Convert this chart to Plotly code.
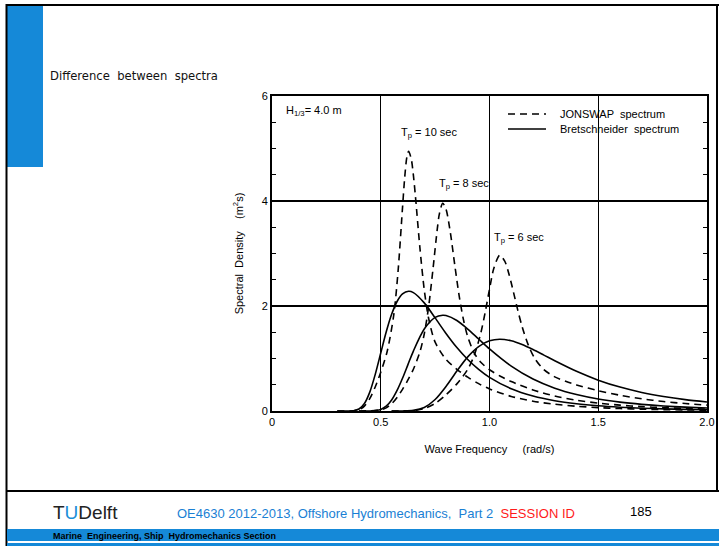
import plotly.graph_objects as go

# ---- spectral ordinates (rad/s, m^2 s), H1/3 = 4.0 m ----
# JONSWAP spectra
w_j10 = [0.30, 0.375, 0.40, 0.425, 0.45, 0.475, 0.50, 0.53, 0.56, 0.58, 0.60, 0.61, 0.62, 0.628,
         0.64, 0.65, 0.66, 0.68, 0.70, 0.72, 0.75, 0.80, 0.85, 0.90, 0.95, 1.0, 1.1, 1.2, 1.3,
         1.4, 1.5, 1.6, 1.7, 1.8, 1.9, 2.0]
s_j10 = [0.0, 0.004, 0.025, 0.094, 0.240, 0.463, 0.738, 1.144, 1.834, 2.682, 3.869, 4.44, 4.834, 4.945,
         4.805, 4.494, 4.064, 3.109, 2.31, 1.767, 1.312, 0.983, 0.795, 0.645, 0.521, 0.421, 0.278, 0.187, 0.129,
         0.0905, 0.0649, 0.0474, 0.0352, 0.0266, 0.0204, 0.0158]

w_j8 = [0.40, 0.50, 0.525, 0.55, 0.575, 0.60, 0.625, 0.65, 0.68, 0.70, 0.72, 0.74, 0.76, 0.77, 0.785,
        0.80, 0.82, 0.84, 0.86, 0.88, 0.90, 0.93, 0.96, 1.0, 1.05, 1.1, 1.2, 1.3, 1.4, 1.5, 1.6,
        1.7, 1.8, 1.9, 2.0]
s_j8 = [0.0, 0.020, 0.060, 0.137, 0.257, 0.411, 0.591, 0.795, 1.124, 1.467, 1.983, 2.698, 3.468, 3.764, 3.956,
        3.845, 3.398, 2.790, 2.208, 1.745, 1.414, 1.103, 0.927, 0.786, 0.663, 0.561, 0.400, 0.285, 0.206, 0.150, 0.111,
        0.083, 0.063, 0.049, 0.038]

w_j6 = [0.55, 0.65, 0.70, 0.75, 0.80, 0.85, 0.90, 0.93, 0.96, 0.98, 1.0, 1.02, 1.047, 1.07, 1.09,
        1.11, 1.13, 1.15, 1.18, 1.21, 1.25, 1.3, 1.35, 1.4, 1.5, 1.6, 1.7, 1.8, 1.9, 2.0]
s_j6 = [0.0, 0.0075, 0.045, 0.144, 0.309, 0.517, 0.794, 1.062, 1.486, 1.877, 2.319, 2.721, 2.967, 2.854, 2.599,
        2.267, 1.921, 1.607, 1.238, 0.988, 0.787, 0.650, 0.565, 0.497, 0.387, 0.300, 0.233, 0.181, 0.142, 0.112]

# Bretschneider spectra
w_b10 = [0.30, 0.35, 0.375, 0.40, 0.425, 0.45, 0.475, 0.50, 0.525, 0.55, 0.575, 0.60, 0.628, 0.65, 0.70,
         0.75, 0.80, 0.85, 0.90, 0.95, 1.0, 1.1, 1.2, 1.3, 1.4, 1.5, 1.6, 1.7, 1.8, 1.9, 2.0]
s_b10 = [0.0, 0.0003, 0.0055, 0.0377, 0.1435, 0.365, 0.702, 1.104, 1.504, 1.841, 2.086, 2.229, 2.28, 2.255, 2.059,
         1.774, 1.478, 1.209, 0.981, 0.793, 0.641, 0.4235, 0.285, 0.196, 0.1377, 0.0987, 0.0721, 0.0536, 0.0405, 0.031, 0.0241]

w_b8 = [0.40, 0.45, 0.50, 0.525, 0.55, 0.575, 0.60, 0.625, 0.65, 0.70, 0.75, 0.785, 0.80, 0.85, 0.90,
        0.95, 1.0, 1.1, 1.2, 1.3, 1.4, 1.5, 1.6, 1.7, 1.8, 1.9, 2.0]
s_b8 = [0.0, 0.001, 0.030, 0.091, 0.209, 0.391, 0.623, 0.884, 1.142, 1.561, 1.783, 1.824, 1.818, 1.724, 1.561,
        1.371, 1.182, 0.854, 0.608, 0.434, 0.313, 0.228, 0.169, 0.127, 0.096, 0.074, 0.058]

w_b6 = [0.55, 0.60, 0.65, 0.70, 0.75, 0.80, 0.85, 0.90, 0.95, 1.0, 1.047, 1.1, 1.15, 1.2, 1.25,
        1.3, 1.4, 1.5, 1.6, 1.7, 1.8, 1.9, 2.0]
s_b6 = [0.0, 0.0007, 0.0114, 0.068, 0.219, 0.468, 0.761, 1.031, 1.227, 1.337, 1.368, 1.337, 1.266, 1.170, 1.064,
        0.957, 0.756, 0.588, 0.456, 0.354, 0.276, 0.216, 0.171]

x_ticks = [0, 0.5, 1.0, 1.5, 2.0]
x_ticklabels = ["0", "0.5", "1.0", "1.5", "2.0"]
y_ticks = [0, 2, 4, 6]
y_ticklabels = ["0", "2", "4", "6"]

series_names = ["JONSWAP  spectrum", "Bretschneider  spectrum"]

# ---- page geometry (plot area in pixels) ----
W, H = 719, 546
L, R, T, B = 272, 707, 96, 411


def px(x):
    return (x - L) / (R - L)


def py(y):
    return (B - y) / (B - T)


BLUE = "#1589d8"
CHART_FONT = "Liberation Sans, Arial, sans-serif"
NARROW_FONT = "Liberation Sans Narrow, Arial Narrow, Liberation Sans, sans-serif"
DASH = "7px,5px"

fig = go.Figure()

jonswap = [(w_j10, s_j10), (w_j8, s_j8), (w_j6, s_j6)]
bret = [(w_b10, s_b10), (w_b8, s_b8), (w_b6, s_b6)]

for w, s in jonswap:
    fig.add_trace(go.Scatter(
        x=w, y=s, mode="lines", name=series_names[0], showlegend=False,
        line=dict(color="black", width=1.6, dash=DASH, shape="spline", smoothing=0.8),
        hoverinfo="skip"))

for w, s in bret:
    fig.add_trace(go.Scatter(
        x=w, y=s, mode="lines", name=series_names[1], showlegend=False,
        line=dict(color="black", width=1.6, shape="spline", smoothing=0.8),
        hoverinfo="skip"))

fig.update_xaxes(
    range=[0, 2], tickvals=x_ticks, ticktext=x_ticklabels, automargin=False,
    showline=True, linecolor="black", linewidth=2, mirror=True,
    showgrid=True, gridcolor="black", gridwidth=1,
    zeroline=False, ticks="", tickfont=dict(family=CHART_FONT, size=11, color="black"),
    title=dict(text="Wave Frequency     (rad/s)", font=dict(family=CHART_FONT, size=11, color="black"),
               standoff=18),
)
fig.update_yaxes(
    range=[0, 6], tickvals=y_ticks, ticktext=y_ticklabels, automargin=False,
    showline=True, linecolor="black", linewidth=2, mirror="ticks",
    showgrid=True, gridcolor="black", gridwidth=2,
    zeroline=False, ticks="inside", ticklen=4, tickcolor="black",
    minor=dict(dtick=0.5, ticks="inside", ticklen=4, tickcolor="black", showgrid=False),
    tickfont=dict(family=CHART_FONT, size=11, color="black"),
    title=dict(text="Spectral  Density    (m<sup>2</sup>s)", font=dict(family=CHART_FONT, size=11, color="black"),
               standoff=16),
)

fig.update_layout(
    width=W, height=H,
    margin=dict(l=L, r=W - R, t=T, b=H - B, pad=0, autoexpand=False),
    paper_bgcolor="white", plot_bgcolor="white",
    showlegend=False,
)

# ---- key: white panel, line samples and labels ----
fig.add_shape(type="rect", xref="paper", yref="paper", layer="between",
              x0=px(503), x1=px(704), y0=py(104), y1=py(142),
              fillcolor="white", line_width=0)
fig.add_shape(type="line", xref="paper", yref="paper", layer="above",
              x0=px(508), x1=px(546), y0=py(114), y1=py(114),
              line=dict(color="black", width=1.6, dash=DASH))
fig.add_shape(type="line", xref="paper", yref="paper", layer="above",
              x0=px(508), x1=px(546), y0=py(129), y1=py(129),
              line=dict(color="black", width=1.6))
for name, yy in zip(series_names, [114, 129]):
    fig.add_annotation(x=px(558), y=py(yy), xref="paper", yref="paper", showarrow=False,
                       xanchor="left", yanchor="middle", text=name,
                       font=dict(family=CHART_FONT, size=11, color="black"))

# ---- chart annotations ----
ann = [
    dict(x=px(284), y=py(111), text="H<sub>1/3</sub>= 4.0 m", xref="paper", yref="paper"),
    dict(x=0.584, y=5.3, text="T<sub>p</sub> = 10 sec", xref="x", yref="y"),
    dict(x=0.760, y=4.32, text="T<sub>p</sub> = 8 sec", xref="x", yref="y"),
    dict(x=1.010, y=3.30, text="T<sub>p</sub> = 6 sec", xref="x", yref="y"),
]
for a in ann:
    fig.add_annotation(
        x=a["x"], y=a["y"], text=a["text"], xanchor="left", yanchor="middle",
        xref=a["xref"], yref=a["yref"], showarrow=False,
        font=dict(family=CHART_FONT, size=11, color="black"))

# ---- slide frame and decorations ----
shapes = [
    dict(type="rect", x0=px(7), x1=px(43), y0=py(6), y1=py(167), fillcolor=BLUE, line_width=0),
    dict(type="line", x0=px(6.5), x1=px(6.5), y0=py(4), y1=py(546), line=dict(color="black", width=2)),
    dict(type="line", x0=px(717), x1=px(717), y0=py(4), y1=py(491), line=dict(color="black", width=2)),
    dict(type="line", x0=px(6), x1=px(719), y0=py(5), y1=py(5), line=dict(color="black", width=2)),
    dict(type="line", x0=px(6), x1=px(719), y0=py(491), y1=py(491), line=dict(color="black", width=2)),
    dict(type="rect", x0=px(7), x1=px(719), y0=py(529), y1=py(541), fillcolor=BLUE, line_width=0),
    dict(type="rect", x0=px(7), x1=px(719), y0=py(543), y1=py(546), fillcolor=BLUE, line_width=0),
]
for s in shapes:
    fig.add_shape(xref="paper", yref="paper", layer="above", **s)

fig.add_annotation(x=px(48), y=py(76), xref="paper", yref="paper", showarrow=False,
                   xanchor="left", yanchor="middle", text="Difference  between  spectra",
                   font=dict(family="DejaVu Sans, Verdana, sans-serif", size=11.6, color="#111111"))

fig.add_annotation(x=px(51), y=py(512), xref="paper", yref="paper", showarrow=False,
                   xanchor="left", yanchor="middle",
                   text="T<span style='color:#1a8fd8'>U</span>Delft",
                   font=dict(family="Liberation Sans, Arial, sans-serif", size=19, color="#222222"))

fig.add_annotation(x=px(175), y=py(513), xref="paper", yref="paper", showarrow=False,
                   xanchor="left", yanchor="middle",
                   text="OE4630 2012-2013, Offshore Hydromechanics,  Part 2  "
                        "<span style='color:#ff1a1a'>SESSION ID</span>",
                   font=dict(family=NARROW_FONT, size=13, color="#1a7fd4"))

fig.add_annotation(x=px(641), y=py(511), xref="paper", yref="paper", showarrow=False,
                   xanchor="center", yanchor="middle", text="185",
                   font=dict(family=NARROW_FONT, size=13, color="black"))

fig.add_annotation(x=px(51), y=py(535.5), xref="paper", yref="paper", showarrow=False,
                   xanchor="left", yanchor="middle",
                   text="<b>Marine  Engineering, Ship  Hydromechanics Section</b>",
                   font=dict(family=NARROW_FONT, size=9, color="black"))

fig.write_html("out.html")
